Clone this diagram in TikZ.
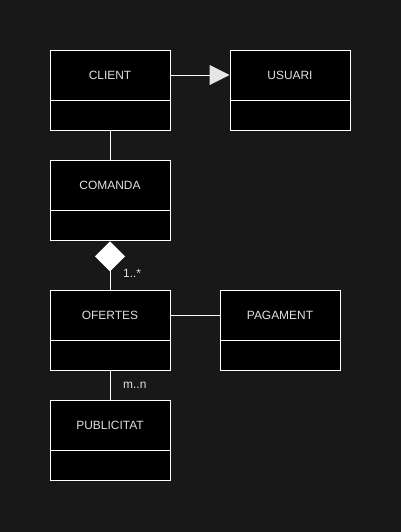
\documentclass[tikz,border=0pt]{standalone}
\usepackage{fontspec}
\setmainfont{Liberation Sans}
\usetikzlibrary{arrows.meta,positioning}
\definecolor{bgdark}{HTML}{181818}
\definecolor{txtgray}{HTML}{E0E0E0}
\definecolor{tipgray}{HTML}{E6E6E6}

\begin{document}
\begin{tikzpicture}[
  hd/.style={draw=white,fill=black,line width=0.7pt,minimum width=3cm,minimum height=1.25cm,inner sep=0pt,text=txtgray,font=\fontsize{8.5}{10}\selectfont},
  bd/.style={draw=white,fill=black,line width=0.7pt,minimum width=3cm,minimum height=0.75cm,inner sep=0pt},
  ln/.style={white,line width=0.7pt},
  lb/.style={font=\fontsize{8.5}{10}\selectfont,text=txtgray}]
\fill[bgdark] (0,0) rectangle (10.025,-13.3);
\useasboundingbox (0,0) rectangle (10.025,-13.3);
\node[hd] (client) at (2.75,-1.875) {CLIENT};
\node[bd,below=0pt of client] (clientb) {};
\node[hd] (usuari) at (7.25,-1.875) {USUARI};
\node[bd,below=0pt of usuari] (usuarib) {};
\node[hd] (comanda) at (2.75,-4.625) {COMANDA};
\node[bd,below=0pt of comanda] (comandab) {};
\node[hd] (ofertes) at (2.75,-7.875) {OFERTES};
\node[bd,below=0pt of ofertes] (ofertesb) {};
\node[hd] (pagament) at (7,-7.875) {PAGAMENT};
\node[bd,below=0pt of pagament] (pagamentb) {};
\node[hd] (public) at (2.75,-10.625) {PUBLICITAT};
\node[bd,below=0pt of public] (publicb) {};
\draw[ln,-{Triangle[length=0.5cm,width=0.5cm,fill=tipgray,color=tipgray]}] (client)--(usuari);
\draw[ln] (clientb)--(comanda);
\draw[ln,{Diamond[length=0.75cm,width=0.75cm,fill=white]}-] (comandab)--node[lb,pos=0.66,right=0.2cm]{1..*}(ofertes);
\draw[ln] (ofertes)--(pagament);
\draw[ln] (ofertesb)--node[lb,midway,right=0.2cm]{m..n}(public);
\end{tikzpicture}
\end{document}
